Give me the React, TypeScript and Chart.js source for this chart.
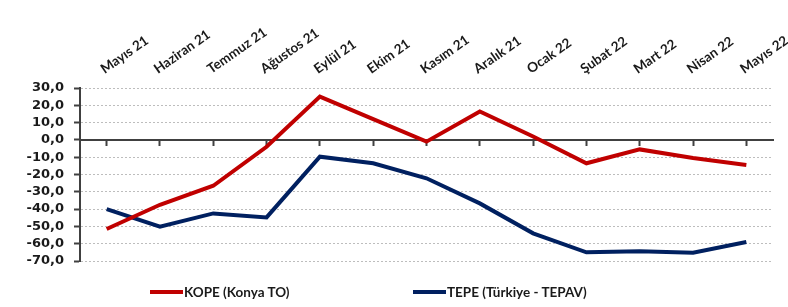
import React, { useEffect, useRef } from 'react';
import { Chart, registerables } from 'chart.js';

Chart.register(...registerables);

const categories = [
  'Mayıs 21', 'Haziran 21', 'Temmuz 21', 'Ağustos 21', 'Eylül 21', 'Ekim 21', 'Kasım 21',
  'Aralık 21', 'Ocak 22', 'Şubat 22', 'Mart 22', 'Nisan 22', 'Mayıs 22',
];
const kopeValues = [-51.5, -37.5, -26.5, -4, 25, 12, -1, 16.4, 2, -13.5, -5.5, -10.5, -14.5];
const tepeValues = [-40, -50.2, -42.5, -44.8, -9.7, -13.5, -22.2, -36.7, -54, -65, -64.3, -65.2, -59];
const seriesNames = ['KOPE (Konya TO)', 'TEPE (Türkiye - TEPAV)'];
const seriesColors = ['#C00000', '#002060'];
const yMin = -70;
const yMax = 30;
const yStep = 10;

// Draws the rotated category labels above the plot, positioned by the x scale.
const topLabelsPlugin = {
  id: 'topLabels',
  afterDraw(chart: any) {
    const xs = chart.scales.x;
    const ctx = chart.ctx;
    const labels: string[] = chart.data.labels;
    ctx.save();
    ctx.font = 'bold 13.5px Lato';
    ctx.fillStyle = '#1a1a1a';
    ctx.textAlign = 'left';
    ctx.textBaseline = 'alphabetic';
    labels.forEach((lab, i) => {
      const x = xs.getPixelForValue(i);
      ctx.save();
      ctx.translate(x - 2, chart.chartArea.top - 14);
      ctx.rotate((-35 * Math.PI) / 180);
      ctx.fillText(lab, 0, 0);
      ctx.restore();
    });
    ctx.restore();
  },
};

export default function App() {
  const ref = useRef<HTMLCanvasElement>(null);

  useEffect(() => {
    const chart = new Chart(ref.current as HTMLCanvasElement, {
      type: 'line',
      data: {
        labels: categories,
        datasets: [
          {
            label: seriesNames[0], data: kopeValues, borderColor: seriesColors[0], backgroundColor: seriesColors[0],
            borderWidth: 4, pointRadius: 0, tension: 0, xAxisID: 'x', yAxisID: 'y',
          },
          {
            label: seriesNames[1], data: tepeValues, borderColor: seriesColors[1], backgroundColor: seriesColors[1],
            borderWidth: 4, pointRadius: 0, tension: 0, xAxisID: 'x', yAxisID: 'y',
          },
        ],
      },
      options: {
        responsive: false,
        animation: false,
        layout: { padding: { left: 0, right: 15, top: 0, bottom: 46 } },
        plugins: { legend: { display: false }, tooltip: { enabled: false } },
        scales: {
          x: {
            type: 'category',
            position: 'top',
            offset: true,
            grid: { display: false, drawTicks: false },
            border: { display: false },
            ticks: { display: false },
            afterFit: (s: any) => { s.height = 88; s.paddingLeft = 0; s.paddingRight = 0; },
          },
          x2: {
            type: 'category',
            position: { y: 0 } as any,
            offset: true,
            grid: { drawOnChartArea: false, drawTicks: true, tickLength: 5, tickColor: '#404040', tickWidth: 2 },
            border: { color: '#404040', width: 2 },
            ticks: { display: false },
            afterFit: (s: any) => { s.height = 0; s.paddingLeft = 0; s.paddingRight = 0; },
          },
          y: {
            min: yMin,
            max: yMax,
            ticks: {
              stepSize: yStep, autoSkip: false, padding: 10, color: '#1a1a1a',
              font: { family: 'DejaVu Sans', weight: 'bold', size: 13 },
              callback: (v: any) => Number(v).toFixed(1).replace('.', ','),
            },
            grid: {
              color: (c: any) => (c.tick && c.tick.value === 0 ? 'rgba(0,0,0,0)' : '#bdbdbd'),
              lineWidth: 1, tickColor: '#404040', tickLength: 6, tickWidth: 2,
            },
            border: { color: '#404040', width: 2, dash: [2, 2] },
            afterFit: (s: any) => { s.width = 80; s.paddingTop = 0; s.paddingBottom = 0; },
          },
        },
      },
      plugins: [topLabelsPlugin],
    });
    return () => chart.destroy();
  }, []);

  const legendFont: React.CSSProperties = {
    position: 'absolute', top: 284, display: 'flex', alignItems: 'center',
    fontFamily: 'Lato', fontWeight: 'bold', fontSize: 13.5, color: '#1a1a1a', whiteSpace: 'nowrap',
  };
  const lineStyle = (c: string): React.CSSProperties => ({
    display: 'inline-block', width: 33, height: 4, background: c, marginRight: 1,
  });

  return (
    <div style={{ position: 'fixed', left: 0, top: 0, width: 788, height: 307, background: '#fff' }}>
      <canvas ref={ref} width={788} height={307} style={{ display: 'block' }} />
      <div style={{ ...legendFont, left: 150 }}>
        <span style={lineStyle(seriesColors[0])} />
        <span>{seriesNames[0]}</span>
      </div>
      <div style={{ ...legendFont, left: 413 }}>
        <span style={lineStyle(seriesColors[1])} />
        <span>{seriesNames[1]}</span>
      </div>
    </div>
  );
}
